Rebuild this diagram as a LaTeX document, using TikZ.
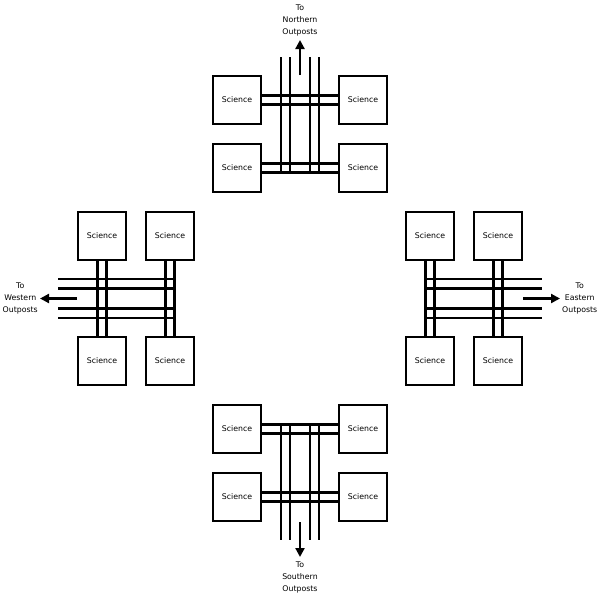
\documentclass[tikz,border=0pt]{standalone}
\usepackage{fontspec}
\setmainfont{DejaVu Sans}
\usepackage{tikz}
\usetikzlibrary{arrows.meta,positioning}

\begin{document}
\begin{tikzpicture}[x=1pt, y=-1pt,
  sci/.style={draw, line width=2.2pt, minimum size=47.8pt, inner sep=0pt, font=\fontsize{7.8}{9}\selectfont},
  track/.style={line width=2.2pt},
  exitarrow/.style={line width=2.2pt, -{Triangle[length=9pt, width=9pt]}},
  lab/.style={font=\fontsize{7.8}{11.8}\selectfont, align=center, inner sep=1pt},
]
  \useasboundingbox (0,0) rectangle (600,597);

  % Science blocks, four round each hub.
  \foreach \nm/\x/\y in {nTL/237/100, nTR/363/100, nBL/237/168, nBR/363/168,
                         sTL/237/429, sTR/363/429, sBL/237/497, sBR/363/497,
                         wTL/102/236, wTR/170/236, wBL/102/361, wBR/170/361,
                         eTL/430/236, eTR/498/236, eBL/430/361, eBR/498/361}
    \node[sci] (\nm) at (\x,\y) {Science};

  % Double links between the blocks of a pair.
  \foreach \a/\b in {nTL/nTR, nBL/nBR, sTL/sTR, sBL/sBR}
    \foreach \s in {-4.5,4.5}
      \draw[track] ([yshift=\s pt]\a.east) -- ([yshift=\s pt]\b.west);
  \foreach \a/\b in {wTL/wBL, wTR/wBR, eTL/eBL, eTR/eBR}
    \foreach \s in {-4.5,4.5}
      \draw[track] ([xshift=\s pt]\a.south) -- ([xshift=\s pt]\b.north);

  % Main tracks leaving each hub.
  \foreach \x in {281,290,310,319} {
    \draw[track] (\x,57) -- (\x,172.5);
    \draw[track] (\x,424.5) -- (\x,540);
  }
  \foreach \y in {279,288.5,308.5,318} {
    \draw[track] (58,\y) -- (174.5,\y);
    \draw[track] (425.5,\y) -- (542,\y);
  }

  % Exits to the outposts.
  \coordinate (nfoot) at (300,75);    \coordinate (ntip) at (300,40);
  \coordinate (sfoot) at (300,522);   \coordinate (stip) at (300,557);
  \coordinate (wfoot) at (77,298.5);  \coordinate (wtip) at (40,298.5);
  \coordinate (efoot) at (523,298.5); \coordinate (etip) at (560,298.5);
  \foreach \d in {n,s,w,e}
    \draw[exitarrow] (\d foot) -- (\d tip);
  \node[lab, above=3pt of ntip] (ntxt) {To\\Northern\\Outposts};
  \node[lab, below=4pt of stip] (stxt) {To\\Southern\\Outposts};
  \node[lab, left=1pt of wtip]  (wtxt) {To\\Western\\Outposts};
  \node[lab, right=1pt of etip] (etxt) {To\\Eastern\\Outposts};
\end{tikzpicture}
\end{document}
